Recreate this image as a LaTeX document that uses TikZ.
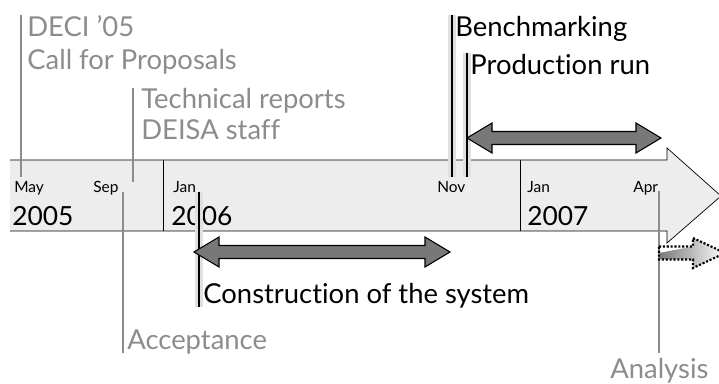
\documentclass[tikz,border=0pt]{standalone}
\usepackage{fontspec}
\setmainfont{Lato}[Ligatures=NoCommon]
\usetikzlibrary{calc,positioning}
\definecolor{labelgray}{gray}{0.55}
\definecolor{bandgray}{gray}{0.93}
\definecolor{spangray}{gray}{0.47}
\newcommand\spanarrow[2]{%
  \draw[span] (#1) -- ($(#1)+(25,-15)$) -- ($(#1)+(25,-6.5)$) -- ($(#2)+(-25,-6.5)$)
    -- ($(#2)+(-25,-15)$) -- (#2) -- ($(#2)+(-25,15)$) -- ($(#2)+(-25,6.5)$)
    -- ($(#1)+(25,6.5)$) -- ($(#1)+(25,15)$) -- cycle;}
\begin{document}
\begin{tikzpicture}[x=0.02cm,y=-0.02cm,
    month/.style={font=\fontsize{8.8}{10}\selectfont,anchor=base west,inner sep=0},
    year/.style={font=\fontsize{15}{18}\selectfont,anchor=base west,inner sep=0},
    event/.style={font=\fontsize{15.6}{17}\selectfont,anchor=base west,inner sep=0},
    faint/.style={event,text=labelgray},
    greymark/.style={draw=labelgray,line width=1pt},
    blackmark/.style={draw=black,line width=1.3pt},
    span/.style={draw=black,fill=spangray,line width=0.6pt,line join=miter}]
  \useasboundingbox (0,0) rectangle (719,384);
  \fill[bandgray] (10,160) -- (667,160) -- (667,148) -- (721,196) -- (667,243) -- (667,231) -- (10,231) -- cycle;
  \draw (10,160) -- (667,160) -- (667,148) -- (721,196) -- (667,243) -- (667,231) -- (10,231);
  \draw (163,160) -- (163,231);
  \draw (520,160) -- (520,231);
  \node[month] (may) at (14,193) {May};
  \node[month] (sep) at (93,193) {Sep};
  \node[month] (jan6) at (173,193) {Jan};
  \node[month] (nov) at (437,193) {Nov};
  \node[month] (jan7) at (527,193) {Jan};
  \node[month] (apr) at (633,193) {Apr};
  \node[year] (y5) at (12,226) {2005};
  \node[year] (y6) at (171,226) {2006};
  \node[year] (y7) at (527,226) {2007};
  \node[faint] (deci) at (27,37) {DECI ’05};
  \node[faint] (call) at (27,70) {Call for Proposals};
  \node[faint] (tech) at (141,109) {Technical reports};
  \node[faint] (staff) at (141,140) {DEISA staff};
  \node[faint] (accept) at (127,350) {Acceptance};
  \node[faint] (anal) at (610,378) {Analysis};
  \node[event] (constr) at (203,304) {Construction of the system};
  \node[event] (bench) at (455,37) {Benchmarking};
  \node[event] (prod) at (470,75) {Production run};
  \coordinate (deciTop) at (21,15);
  \coordinate (deciBot) at (21,177);
  \coordinate (techTop) at (133,88);
  \coordinate (techBot) at (133,182);
  \coordinate (accTop) at (123,192);
  \coordinate (accBot) at (123,353);
  \coordinate (anTop) at (659,191);
  \coordinate (anBot) at (659,353);
  \coordinate (conTop) at (199,192);
  \coordinate (conBot) at (199,307);
  \coordinate (benTop) at (452,15);
  \coordinate (benBot) at (452,177);
  \coordinate (prTop) at (467,53);
  \coordinate (prBot) at (467,177);
  \draw[greymark] (deciTop) -- (deciBot);
  \draw[greymark] (techTop) -- (techBot);
  \draw[greymark] (accTop) -- (accBot);
  \draw[greymark] (anTop) -- (anBot);
  \foreach \a/\b in {conTop/conBot,benTop/benBot,prTop/prBot}
    \draw[black!12,line width=4pt,shift={(1.5,2)}] (\a) -- (\b);
  \draw[blackmark] (conTop) -- (conBot);
  \draw[blackmark] (benTop) -- (benBot);
  \draw[blackmark] (prTop) -- (prBot);
  \coordinate (prodL) at (467,138);
  \coordinate (prodR) at (661,138);
  \coordinate (conL) at (194,252);
  \coordinate (conR) at (450,252);
  \spanarrow{prodL}{prodR}
  \spanarrow{conL}{conR}
  \coordinate (nextL) at (659,253);
  \coordinate (nextR) at (725,253);
  \shade[left color=spangray,right color=white]
    (nextL) -- ($(nextL)+(34,-6.5)$) -- ($(nextL)+(34,-15)$) -- (nextR)
    -- ($(nextL)+(34,15)$) -- ($(nextL)+(34,6.5)$) -- ($(nextL)+(0,6.5)$) -- cycle;
  \draw[densely dotted,line width=1.2pt]
    ($(nextL)+(0,-6.5)$) -- ($(nextL)+(34,-6.5)$) -- ($(nextL)+(34,-15)$) -- (nextR)
    -- ($(nextL)+(34,15)$) -- ($(nextL)+(34,6.5)$) -- ($(nextL)+(0,6.5)$) -- cycle;
\end{tikzpicture}
\end{document}
